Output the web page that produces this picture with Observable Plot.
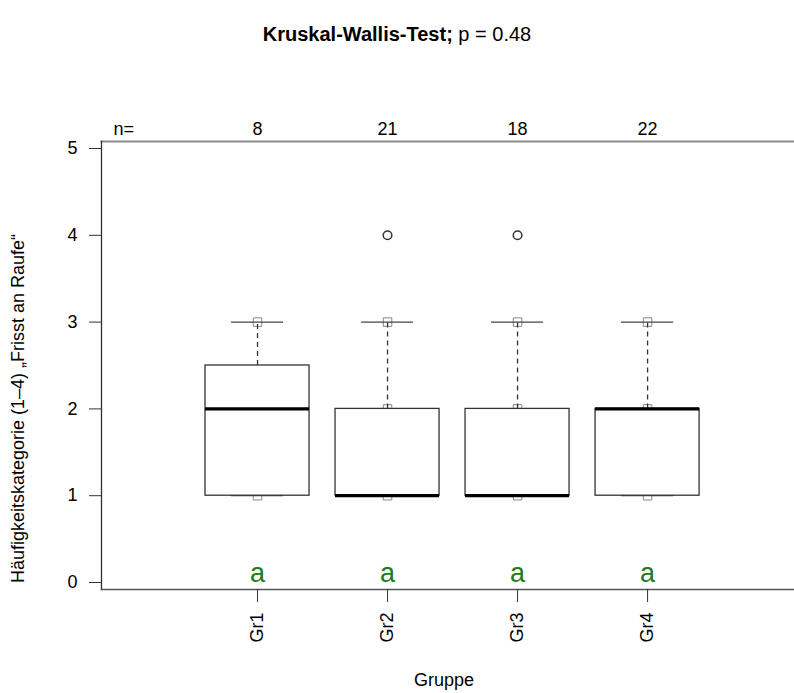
<!DOCTYPE html>
<html><head><meta charset="utf-8">
<script src="https://cdn.jsdelivr.net/npm/d3@7"></script>
<script src="https://cdn.jsdelivr.net/npm/@observablehq/plot@0.6"></script>
<style>
body{margin:0;background:#fff;font-family:"Liberation Sans",Arial,sans-serif;}
#title{width:794px;height:70px;box-sizing:border-box;padding-top:23px;text-align:center;font-size:20px;line-height:22px;color:#000;}
svg text{font-family:"Liberation Sans",Arial,sans-serif;}
</style></head><body>
<div id="title"><b>Kruskal-Wallis-Test;</b> p = 0.48</div>
<div id="chart"></div>
<script>
const groups = ["Gr1", "Gr2", "Gr3", "Gr4"];
const nValues = [8, 21, 18, 22];
const lowerWhisker = [1, 1, 1, 1];
const q1 = [1, 1, 1, 1];
const medians = [2, 1, 1, 2];
const q3 = [2.5, 2, 2, 2];
const upperWhisker = [3, 3, 3, 3];
const outlierGroups = ["Gr2", "Gr3"];
const outlierValues = [4, 4];
const pointGroups = ["Gr1", "Gr1", "Gr1", "Gr2", "Gr2", "Gr2", "Gr3", "Gr3", "Gr3", "Gr4", "Gr4", "Gr4"];
const pointValues = [1, 2, 3, 1, 2, 3, 1, 2, 3, 1, 2, 3];
const letters = ["a", "a", "a", "a"];
const yTicks = [0, 1, 2, 3, 4, 5];
const yLabel = "Häufigkeitskategorie (1–4) „Frisst an Raufe“";
const xLabel = "Gruppe";

const FONT = "'Liberation Sans', Arial, sans-serif";
const pos = g => groups.indexOf(g) + 1;
const boxes = groups.map((g, i) => ({
  pos: i + 1, n: nValues[i], lo: lowerWhisker[i], q1: q1[i], med: medians[i],
  q3: q3[i], hi: upperWhisker[i], letter: letters[i]
}));
const points = pointGroups.map((g, i) => ({pos: pos(g), value: pointValues[i]}));
const outliers = outlierGroups.map((g, i) => ({pos: pos(g), value: outlierValues[i]}));

const plot = Plot.plot({
  width: 794,
  height: 623,
  marginLeft: 101,
  marginRight: 0,
  marginTop: 71,
  marginBottom: 104,
  style: {fontFamily: FONT, fontSize: "18px", color: "#000", background: "#fff"},
  x: {type: "linear", domain: [-0.2, 5.13]},
  y: {domain: [-0.0806, 5.0806]},
  marks: [
    Plot.dot(points, {x: "pos", y: "value", symbol: "square", r: 4.8, stroke: "#888", strokeWidth: 1, fill: "white"}),
    Plot.ruleX(boxes, {x: "pos", y1: "q3", y2: "hi", stroke: "#333", strokeWidth: 1.3, strokeDasharray: "5,4"}),
    Plot.ruleX(boxes, {x: "pos", y1: "lo", y2: "q1", stroke: "#333", strokeWidth: 1.3, strokeDasharray: "5,4"}),
    Plot.ruleY(boxes, {y: "hi", x1: d => d.pos - 0.2, x2: d => d.pos + 0.2, stroke: "#444", strokeWidth: 1.2}),
    Plot.ruleY(boxes, {y: "lo", x1: d => d.pos - 0.2, x2: d => d.pos + 0.2, stroke: "#444", strokeWidth: 1.2}),
    Plot.rect(boxes, {x1: d => d.pos - 0.4, x2: d => d.pos + 0.4, y1: "q1", y2: "q3", fill: "white", stroke: "#333", strokeWidth: 1.3}),
    Plot.ruleY(boxes, {y: "med", x1: d => d.pos - 0.4, x2: d => d.pos + 0.4, stroke: "black", strokeWidth: 3.2}),
    Plot.dot(outliers, {x: "pos", y: "value", r: 4.3, stroke: "#333", strokeWidth: 1.5, fill: "white"}),
    Plot.text(boxes, {x: "pos", y: 0, text: "letter", fill: "#217a21", fontSize: 27, fontFamily: FONT, lineAnchor: "middle", dy: -9}),
    Plot.text(boxes, {x: "pos", text: d => String(d.n), frameAnchor: "top", lineAnchor: "middle", dy: -12, fontSize: 18, fontFamily: FONT}),
    Plot.text(["n="], {frameAnchor: "top-left", dx: 12, dy: -12, textAnchor: "start", lineAnchor: "middle", fontSize: 18, fontFamily: FONT}),
    Plot.frame({anchor: "top", stroke: "#8a8a8a", strokeWidth: 2}),
    Plot.frame({anchor: "left", stroke: "#333", strokeWidth: 1.3}),
    Plot.frame({anchor: "bottom", stroke: "#555", strokeWidth: 1.6}),
    Plot.axisY(yTicks, {tickSize: 12, tickPadding: 12, tickFormat: d => String(d), fontSize: 18, fontFamily: FONT, stroke: "#333", label: null}),
    Plot.axisX([1, 2, 3, 4], {tickSize: 13, tickPadding: 10, tickRotate: -90, tickFormat: d => groups[d - 1], fontSize: 18, fontFamily: FONT, stroke: "#333", label: null}),
    Plot.text([yLabel], {frameAnchor: "left", textAnchor: "middle", lineAnchor: "middle", rotate: -90, dx: -83, dy: 43, fontSize: 18, fontFamily: FONT}),
    Plot.text([xLabel], {frameAnchor: "bottom", lineAnchor: "middle", dx: -4, dy: 91, fontSize: 18, fontFamily: FONT})
  ]
});
document.getElementById("chart").appendChild(plot);
</script>
</body></html>
